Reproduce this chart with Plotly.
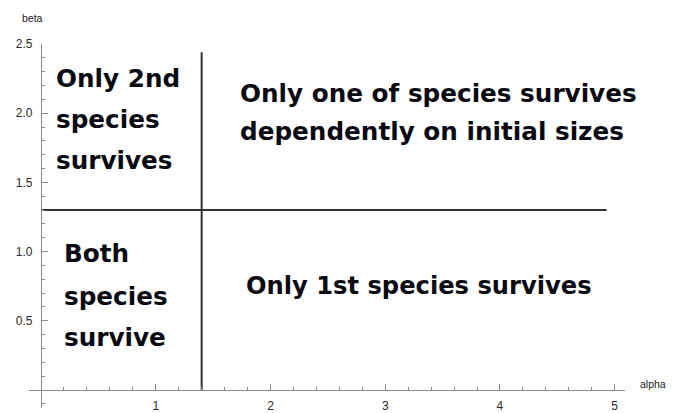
import numpy as np
import plotly.graph_objects as go

# Critical values separating the regions
alpha_crit = 1.4
beta_crit = 1.3
vline_alpha = [alpha_crit, alpha_crit]
vline_beta = [0.0, 2.44]
hline_alpha = [0.0, 4.93]
hline_beta = [beta_crit, beta_crit]

x_tickvals = [1, 2, 3, 4, 5]
y_tickvals = [0.5, 1.0, 1.5, 2.0, 2.5]
x_ticktext = ["1", "2", "3", "4", "5"]
y_ticktext = ["0.5", "1.0", "1.5", "2.0", "2.5"]

region_top_left = ["Only 2nd", "species", "survives"]
region_top_right = ["Only one of species survives", "dependently on initial sizes"]
region_bottom_left = ["Both", "species", "survive"]
region_bottom_right = ["Only 1st species survives"]

x_range = [-0.105, 5.09]
y_range = [-0.13, 2.5]

fig = go.Figure()
fig.add_trace(go.Scatter(x=vline_alpha, y=vline_beta, mode="lines",
                         line=dict(color="#333333", width=2), hoverinfo="skip", showlegend=False))
fig.add_trace(go.Scatter(x=hline_alpha, y=hline_beta, mode="lines",
                         line=dict(color="#333333", width=2), hoverinfo="skip", showlegend=False))

txt_font = dict(family="DejaVu Sans", size=24.7, color="#0a0a12", weight="bold")
annotations = []

def add_block(lines, x0, ys, font=txt_font):
    for t, yy in zip(lines, ys):
        annotations.append(dict(x=x0, y=yy, xref="x", yref="y", text=t, showarrow=False,
                                xanchor="left", yanchor="middle", font=font))

add_block(region_top_left, 0.11, [2.254, 1.951, 1.655])
add_block(region_top_right, 1.72, [2.139, 1.871])
add_block(region_bottom_left, 0.18, [0.983, 0.679, 0.383])
add_block(region_bottom_right, 1.765, [0.751], dict(txt_font, size=24.2))

lab_font = dict(family="Liberation Sans", size=10.5, color="#222222")
annotations.append(dict(x=1.047, y=0.066, xref="paper", yref="paper", text="alpha", showarrow=False,
                        xanchor="center", yanchor="middle", font=lab_font))
annotations.append(dict(x=0.006, y=1.071, xref="paper", yref="paper", text="beta", showarrow=False,
                        xanchor="center", yanchor="middle", font=lab_font))

x_minor = [round(v, 2) for v in np.arange(0.2, 5.01, 0.2) if abs(v - round(v)) > 1e-6]
y_minor = [round(v, 2) for v in np.arange(-0.1, 2.45, 0.1) if abs(v * 2 - round(v * 2)) > 1e-6]

axis_col = "#8a8a8a"
tick_font = dict(family="Liberation Sans", size=12, color="#2a2a2a")

# page body adds an 8px offset; the figure is sized to fit the 675x413 window
fig.update_layout(
    width=667, height=405,
    margin=dict(l=21, r=50, t=36, b=5),
    paper_bgcolor="white", plot_bgcolor="white",
    showlegend=False,
    annotations=annotations,
    xaxis=dict(range=x_range, anchor="free", automargin=False,
               position=(0 - y_range[0]) / (y_range[1] - y_range[0]),
               showgrid=False, zeroline=False, showline=True, linecolor=axis_col, linewidth=1.3,
               tickmode="array", tickvals=x_tickvals, ticktext=x_ticktext,
               ticks="inside", ticklen=6, tickcolor=axis_col, tickwidth=1,
               ticklabelstandoff=4, tickfont=tick_font,
               minor=dict(tickmode="array", tickvals=x_minor, ticks="inside", ticklen=3,
                          tickcolor=axis_col, tickwidth=1, showgrid=False)),
    yaxis=dict(range=y_range, anchor="free", automargin=False,
               position=(0 - x_range[0]) / (x_range[1] - x_range[0]),
               showgrid=False, zeroline=False, showline=True, linecolor=axis_col, linewidth=1.3,
               tickmode="array", tickvals=y_tickvals, ticktext=y_ticktext,
               ticks="inside", ticklen=6, tickcolor=axis_col, tickwidth=1,
               ticklabelstandoff=6, tickfont=tick_font,
               minor=dict(tickmode="array", tickvals=y_minor, ticks="inside", ticklen=3,
                          tickcolor=axis_col, tickwidth=1, showgrid=False)),
)

fig.write_html("out.html")
